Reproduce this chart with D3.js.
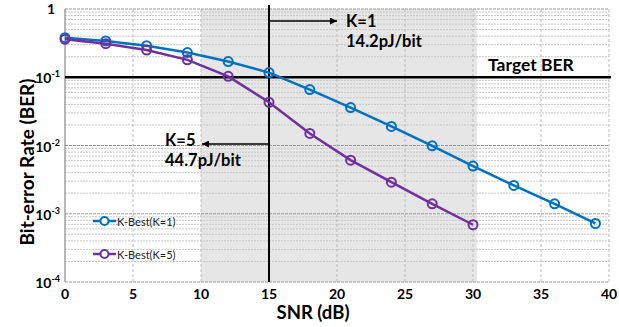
<!DOCTYPE html>
<html><head><meta charset="utf-8">
<script src="https://cdn.jsdelivr.net/npm/d3@7"></script>
<style>body{margin:0;background:#fff}svg{display:block}</style>
</head><body>
<svg id="c" width="619" height="327"></svg>
<script>
const snr1 = [0,3,6,9,12,15,18,21,24,27,30,33,36,39];
const ber1 = [0.38,0.34,0.29,0.23,0.17,0.117,0.066,0.036,0.019,0.0099,0.005,0.0026,0.0014,0.00072];
const snr5 = [0,3,6,9,12,15,18,21,24,27,30];
const ber5 = [0.36,0.31,0.25,0.18,0.103,0.043,0.015,0.0061,0.0029,0.0014,0.00069];
const seriesNames = ["K-Best(K=1)","K-Best(K=5)"];
const xTicks = [0,5,10,15,20,25,30,35,40];
const yTicks = [1,0.1,0.01,0.001,0.0001];
const yTickExp = ["","-1","-2","-3","-4"];
const shadeRange = [10,30.3];
const targetBER = 0.1;
const markSNR = 15;

const svg = d3.select("#c");
const font = "Lato, 'Open Sans', sans-serif";
const L=65, R=609, T=9, B=282;
const x = d3.scaleLinear().domain([0,40]).range([L,R]);
const y = d3.scaleLog().domain([1e-4,1]).range([B,T]);

// shading
svg.append("rect").attr("x",x(shadeRange[0])).attr("y",T).attr("width",x(shadeRange[1])-x(shadeRange[0])).attr("height",B-T).attr("fill","#e6e6e6");

// minor grid
const minor=[];
for(let e=-4;e<0;e++) for(let m=2;m<10;m++) minor.push(m*Math.pow(10,e));
svg.append("g").selectAll("line").data(minor).join("line")
  .attr("x1",L).attr("x2",R).attr("y1",d=>y(d)).attr("y2",d=>y(d))
  .attr("stroke","#c8c8c8").attr("stroke-width",1).attr("stroke-dasharray","2,1");
// vertical grid
svg.append("g").selectAll("line").data(xTicks.slice(1)).join("line")
  .attr("x1",d=>x(d)).attr("x2",d=>x(d)).attr("y1",T).attr("y2",B)
  .attr("stroke","#bdbdbd").attr("stroke-width",1).attr("stroke-dasharray","3,2");
// major grid
svg.append("g").selectAll("line").data(yTicks).join("line")
  .attr("x1",L).attr("x2",R).attr("y1",d=>y(d)).attr("y2",d=>y(d))
  .attr("stroke","#9a9a9a").attr("stroke-width",1).attr("stroke-dasharray","3,1");
// left axis
svg.append("line").attr("x1",L).attr("x2",L).attr("y1",T).attr("y2",B).attr("stroke","#888").attr("stroke-width",1.2);

// y tick labels
const yl = svg.append("g").attr("font-family",font).attr("font-weight","bold").attr("fill","#000");
yTicks.forEach((v,i)=>{
  if(i===0){
    yl.append("text").attr("x",L-10).attr("y",y(v)+5).attr("text-anchor","end").attr("font-size",14).text("1");
  } else {
    const t = yl.append("text").attr("x",L-5).attr("y",y(v)+6).attr("text-anchor","end").attr("font-size",14);
    t.append("tspan").text("10");
    t.append("tspan").attr("dy",-6).attr("font-size",9).text(yTickExp[i]);
  }
});
// x tick labels
svg.append("g").selectAll("text").data(xTicks).join("text")
  .attr("x",d=>x(d)).attr("y",B+17).attr("text-anchor","middle")
  .attr("font-family",font).attr("font-weight","bold").attr("font-size",14).text(d=>d);

// axis titles
svg.append("text").attr("x",313).attr("y",319).attr("text-anchor","middle")
  .attr("font-family",font).attr("font-weight","bold").attr("font-size",18.5).text("SNR (dB)");
svg.append("text").attr("transform","translate(34,162) rotate(-90)").attr("text-anchor","middle")
  .attr("font-family",font).attr("font-weight","bold").attr("font-size",19).text("Bit-error Rate (BER)");

// target line
svg.append("line").attr("x1",L).attr("x2",R+2).attr("y1",y(targetBER)).attr("y2",y(targetBER)).attr("stroke","#000").attr("stroke-width",2.5);
svg.append("text").attr("x",488).attr("y",71).attr("font-family",font).attr("font-weight","bold").attr("font-size",17.5).text("Target BER");

// vertical marker
svg.append("line").attr("x1",x(markSNR)).attr("x2",x(markSNR)).attr("y1",5).attr("y2",B).attr("stroke","#000").attr("stroke-width",2);

// arrows
const defs = svg.append("defs");
defs.append("marker").attr("id","ah").attr("viewBox","0 0 10 10").attr("refX",10).attr("refY",5)
  .attr("markerWidth",11).attr("markerHeight",7).attr("markerUnits","userSpaceOnUse").attr("orient","auto")
  .append("path").attr("d","M0,0L10,5L0,10z").attr("fill","#000");
svg.append("line").attr("x1",x(markSNR)).attr("x2",337).attr("y1",21).attr("y2",21).attr("stroke","#000").attr("stroke-width",1.5).attr("marker-end","url(#ah)");
svg.append("line").attr("x1",x(markSNR)).attr("x2",202).attr("y1",144).attr("y2",144).attr("stroke","#000").attr("stroke-width",1.5).attr("marker-end","url(#ah)");

const ann = svg.append("g").attr("font-family",font).attr("font-weight","bold").attr("font-size",16.5).attr("fill","#000");
ann.append("text").attr("x",346).attr("y",27).text("K=1");
ann.append("text").attr("x",346).attr("y",47).text("14.2pJ/bit");
ann.append("text").attr("x",165).attr("y",146).text("K=5");
ann.append("text").attr("x",165).attr("y",166).text("44.7pJ/bit");

// series
const colors = ["#0070c0","#7030a0"];
const data = [snr1.map((s,i)=>[s,ber1[i]]), snr5.map((s,i)=>[s,ber5[i]])];
const line = d3.line().x(d=>x(d[0])).y(d=>y(d[1]));
data.forEach((ds,k)=>{
  svg.append("path").datum(ds).attr("d",line).attr("fill","none").attr("stroke",colors[k]).attr("stroke-width",2.5);
  svg.append("g").selectAll("circle").data(ds).join("circle")
    .attr("cx",d=>x(d[0])).attr("cy",d=>y(d[1])).attr("r",4.5)
    .attr("fill","none").attr("stroke",colors[k]).attr("stroke-width",2);
});

// legend
seriesNames.forEach((n,k)=>{
  const ly = [221,254][k];
  const g = svg.append("g");
  g.append("line").attr("x1",93).attr("x2",116).attr("y1",ly).attr("y2",ly).attr("stroke",colors[k]).attr("stroke-width",2.5);
  g.append("circle").attr("cx",104.5).attr("cy",ly).attr("r",4).attr("fill","#fff").attr("stroke",colors[k]).attr("stroke-width",2);
  g.append("text").attr("x",117).attr("y",ly+4.5).attr("font-family",font).attr("font-size",11).attr("fill","#222").text(n);
});
</script>
</body></html>
